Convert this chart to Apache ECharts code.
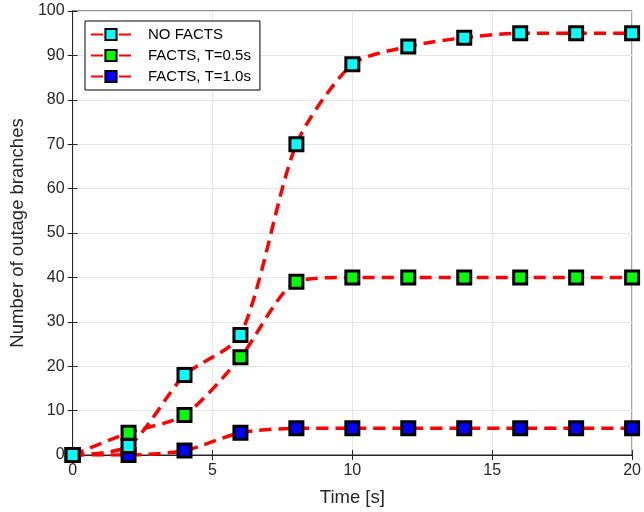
<!DOCTYPE html>
<html>
<head>
<meta charset="utf-8">
<script src="https://cdn.jsdelivr.net/npm/echarts@6/dist/echarts.min.js"></script>
<style>
  html, body { margin: 0; padding: 0; background: #fff; }
  #echar { width: 644px; height: 512px; }
</style>
</head>
<body>
<div id="echar"></div>
<script>
// data
var times = [0, 2, 4, 6, 8, 10, 12, 14, 16, 18, 20];
var noFacts = [0, 2, 18, 27, 70, 88, 92, 94, 95, 95, 95];
var facts05 = [0, 5, 9, 22, 39, 40, 40, 40, 40, 40, 40];
var facts10 = [0, 0, 1, 5, 6, 6, 6, 6, 6, 6, 6];
var xTicks = [0, 5, 10, 15, 20];
var yTicks = [0, 10, 20, 30, 40, 50, 60, 70, 80, 90, 100];

function pairs(ys) {
    return times.map(function (t, i) { return [t, ys[i]]; });
}

function mkSeries(name, ys, fill, z) {
    return {
        name: name,
        type: 'line',
        data: pairs(ys),
        smooth: 0.25,
        symbol: 'rect',
        symbolSize: 13,
        z: z,
        lineStyle: { color: '#ff0000', width: 3.5, type: [12, 7] },
        itemStyle: { color: fill, borderColor: '#000', borderWidth: 3 }
    };
}

var myChart = echarts.init(document.getElementById('echar'));
var axisCol = '#262626';
var font = 'Liberation Sans, Arial, sans-serif';

var option = {
    animation: false,
    textStyle: { fontFamily: font },
    grid: { left: 71, right: 10, top: 11, bottom: 57, show: true, borderColor: axisCol, borderWidth: 1 },
    legend: {
        left: 85, top: 21,
        orient: 'vertical',
        backgroundColor: '#fff',
        borderColor: '#000', borderWidth: 1,
        padding: [6, 9, 6, 5],
        itemGap: 6,
        itemWidth: 40, itemHeight: 14,
        lineStyle: { type: [12, 16], dashOffset: 0 },
        textStyle: { fontSize: 15, color: '#000', padding: [0, 0, 0, 12] },
        data: ['NO FACTS', 'FACTS, T=0.5s', 'FACTS, T=1.0s']
    },
    xAxis: [{
        type: 'value', min: 0, max: 20, interval: 5,
        name: 'Time [s]', nameLocation: 'middle', nameGap: 33,
        nameTextStyle: { fontSize: 18.5, color: axisCol },
        axisLine: { lineStyle: { color: axisCol } },
        axisTick: { inside: true, length: 5, lineStyle: { color: axisCol } },
        axisLabel: { fontSize: 16, color: axisCol, margin: 8,
            formatter: function (v) { return xTicks.indexOf(v) >= 0 ? v : ''; } },
        splitLine: { show: true, lineStyle: { color: '#e6e6e6' } }
    }, {
        type: 'value', min: 0, max: 20, interval: 5, position: 'top',
        axisLine: { show: true, lineStyle: { color: axisCol } },
        axisTick: { inside: true, length: 5, lineStyle: { color: axisCol } },
        axisLabel: { show: false }, splitLine: { show: false }
    }],
    yAxis: [{
        type: 'value', min: 0, max: 100, interval: 10,
        name: 'Number of outage branches', nameLocation: 'middle', nameGap: 43,
        nameTextStyle: { fontSize: 18.5, color: axisCol },
        axisLine: { show: true, lineStyle: { color: axisCol } },
        axisTick: { show: true, inside: true, length: 5, lineStyle: { color: axisCol } },
        axisLabel: { fontSize: 16, color: axisCol, margin: 8,
            formatter: function (v) { return yTicks.indexOf(v) >= 0 ? v : ''; } },
        splitLine: { show: true, lineStyle: { color: '#e6e6e6' } }
    }, {
        type: 'value', min: 0, max: 100, interval: 10, position: 'right',
        axisLine: { show: true, lineStyle: { color: axisCol } },
        axisTick: { show: true, inside: true, length: 5, lineStyle: { color: axisCol } },
        axisLabel: { show: false }, splitLine: { show: false }
    }],
    series: [
        mkSeries('NO FACTS', noFacts, '#00ffff', 4),
        mkSeries('FACTS, T=0.5s', facts05, '#00ff00', 3),
        mkSeries('FACTS, T=1.0s', facts10, '#0000ff', 2)
    ]
};

myChart.setOption(option);
</script>
</body>
</html>
